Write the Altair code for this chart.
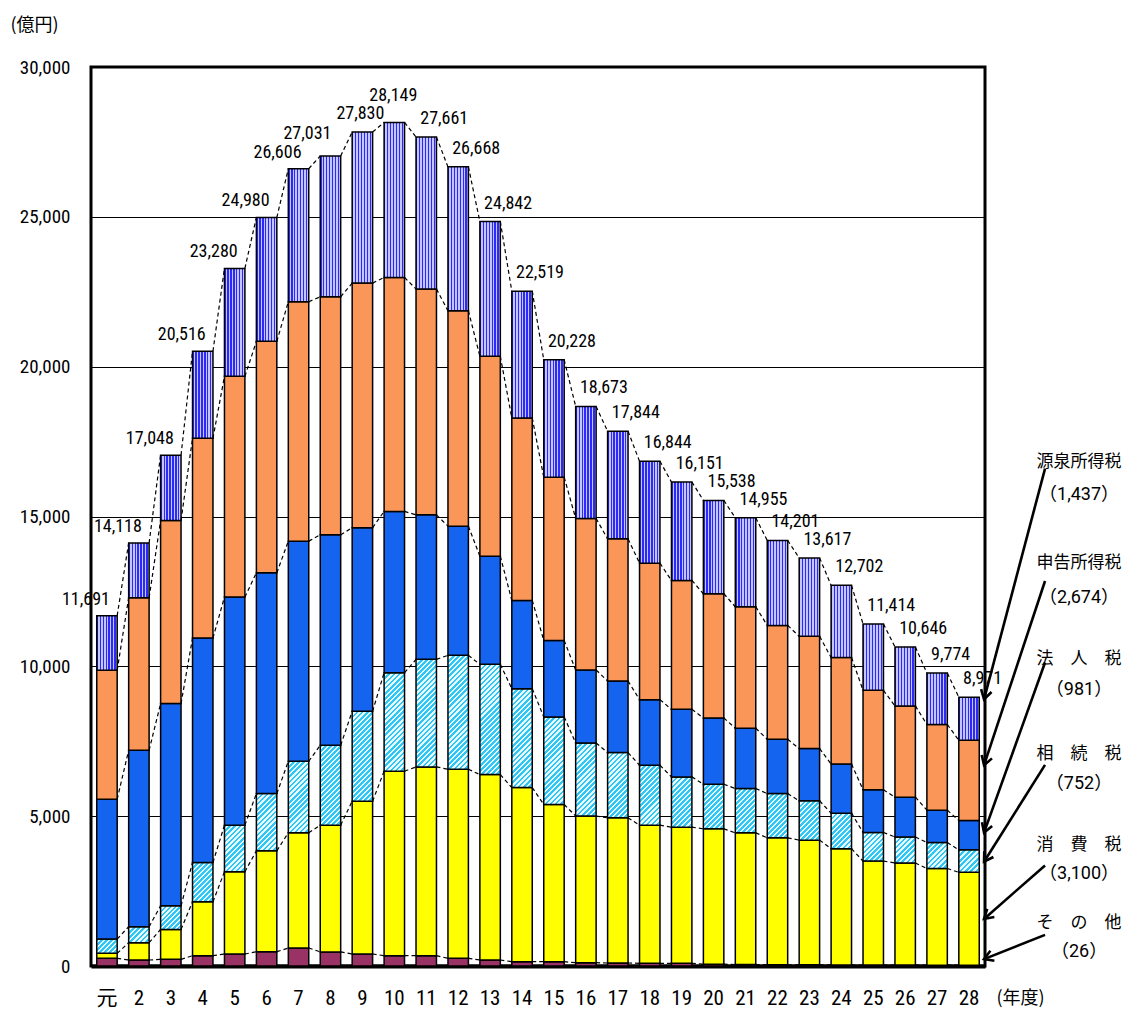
import math
import altair as alt

# ---------------- data (億円) ----------------
years = ["元", "2", "3", "4", "5", "6", "7", "8", "9", "10", "11", "12", "13", "14",
         "15", "16", "17", "18", "19", "20", "21", "22", "23", "24", "25", "26", "27", "28"]
totals = [11691, 14118, 17048, 20516, 23280, 24980, 26606, 27031, 27830, 28149, 27661,
          26668, 24842, 22519, 20228, 18673, 17844, 16844, 16151, 15538, 14955, 14201,
          13617, 12702, 11414, 10646, 9774, 8971]
sonota = [256, 200, 222, 344, 400, 478, 600, 470, 400, 344, 344, 256, 200, 144, 144, 111,
          100, 90, 90, 60, 50, 40, 40, 35, 30, 30, 28, 26]
shouhi = [166, 578, 1000, 1800, 2744, 3366, 3844, 4230, 5100, 6156, 6300, 6310, 6189, 5811,
          5245, 4894, 4844, 4610, 4543, 4517, 4394, 4237, 4160, 3879, 3470, 3410, 3225, 3100]
souzoku = [478, 533, 789, 1311, 1556, 1911, 2389, 2666, 3000, 3289, 3589, 3800, 3677, 3300,
           2922, 2439, 2178, 2000, 1678, 1489, 1478, 1478, 1311, 1186, 956, 866, 867, 752]
houjin = [4667, 5889, 6745, 7489, 7611, 7367, 7345, 7023, 6127, 5381, 4822, 4311, 3606, 2945,
          2555, 2433, 2389, 2189, 2255, 2211, 2011, 1811, 1744, 1640, 1424, 1327, 1080, 981]
shinkoku = [4300, 5090, 6110, 6667, 7367, 7722, 7988, 7944, 8162, 7807, 7534, 7189, 6672, 6088,
            5445, 5056, 4744, 4555, 4300, 4145, 4055, 3800, 3745, 3555, 3320, 3046, 2859, 2674]
gensen = [1824, 1828, 2182, 2905, 3602, 4136, 4440, 4698, 5041, 5172, 5072, 4802, 4498, 4231,
          3917, 3740, 3589, 3400, 3285, 3116, 2967, 2835, 2617, 2407, 2214, 1967, 1715, 1437]

series_names = ["その他", "消費税", "相続税", "法人税", "申告所得税", "源泉所得税"]
series_values = [sonota, shouhi, souzoku, houjin, shinkoku, gensen]
last_values = [1437, 2674, 981, 752, 3100, 26]  # 源泉, 申告, 法人, 相続, 消費, その他 (H28)

# ---------------- geometry / style ----------------
W, H = 894, 899
YMAX = 30000
PAD_INNER, PAD_OUTER = 0.36, 0.18
STEP = W / (len(years) - PAD_INNER + 2 * PAD_OUTER)
BW = STEP * (1 - PAD_INNER)
HALF = BW / 2

NUM = "'Liberation Sans Narrow','Roboto Condensed','DejaVu Sans Condensed',Roboto,sans-serif"
JP = "'Noto Sans CJK JP',sans-serif"
XLAB = "'Liberation Sans Narrow','Roboto Condensed','DejaVu Sans Condensed',Roboto,'Noto Sans CJK JP',sans-serif"
VAL = "Roboto,'Noto Sans CJK JP',sans-serif"


def vstripes(c1, c2, n):
    stops = []
    for k in range(n):
        a, m, b = k / n, (k + 0.45) / n, (k + 1) / n
        stops += [{"offset": a, "color": c1}, {"offset": m, "color": c1},
                  {"offset": m, "color": c2}, {"offset": b, "color": c2}]
    return {"gradient": "linear", "x1": 0, "y1": 0, "x2": 1, "y2": 0, "stops": stops}


def diag(c1, c2, value, period=3.6):
    h = max(value * H / YMAX, 0.5)
    w = BW
    r = h / w
    a = (1 + r) / (1 + r * r)
    n = max(1, round((w + h) / (math.sqrt(2) * period)))
    stops = []
    for k in range(n):
        s, m, e = k / n, (k + 0.5) / n, (k + 1) / n
        stops += [{"offset": s, "color": c1}, {"offset": m, "color": c1},
                  {"offset": m, "color": c2}, {"offset": e, "color": c2}]
    return {"gradient": "linear", "x1": 0, "y1": 0, "x2": a, "y2": a * r, "stops": stops}


def fill_for(name, value):
    if name == "その他":
        return "#993366"
    if name == "消費税":
        return "#FFFF00"
    if name == "相続税":
        return diag("#2EC6F5", "#E8F8FF", value)
    if name == "法人税":
        return "#1464F0"
    if name == "申告所得税":
        return "#FA9658"
    return vstripes("#2B2BF5", "#C4C4FF", 7)


records = []
for i, yr in enumerate(years):
    for j, (name, vals) in enumerate(zip(series_names, series_values)):
        records.append({"year": yr, "idx": i, "series": name, "order": j,
                        "value": vals[i], "fill": fill_for(name, vals[i])})

peak = totals.index(max(totals))
tot_records = []
for i, (yr, t) in enumerate(zip(years, totals)):
    if i < peak - 2:
        side = "R"
    elif i == peak - 2:
        side = "R2"
    elif i == peak - 1:
        side = "C"
    elif i == peak:
        side = "P"
    else:
        side = "L"
    tot_records.append({"year": yr, "total": t, "label": f"{t:,}", "side": side})

# annotation (right side) — names, values from H28 data, anchor heights in data units
ann_names = ["源泉所得税", "申告所得税", "法　人　税", "相　続　税", "消　費　税", "そ　の　他"]
ann_name_y = [16833, 13433, 10233, 7066, 4050, 1447]
ann_val_y = [15733, 12266, 9200, 6066, 3066, 467]
ann_start_y = [16600, 12847, 10127, 6710, 3357, 1040]
ann_end_y = [8900, 6700, 4450, 3480, 1570, 230]
START_OFF, END_OFF, TEXT_OFF = 76, 15, 110

ann_records = []
for nm, v, ny, vy, sy, ey in zip(ann_names, last_values, ann_name_y, ann_val_y, ann_start_y, ann_end_y):
    dx = END_OFF - START_OFF
    dy = (sy - ey) * H / YMAX
    ang = math.degrees(math.atan2(dy, dx)) % 360
    ann_records.append({"yr": years[-1], "name": nm, "vlabel": f"（{v:,}）",
                        "ny": ny, "vy": vy, "sy": sy, "ey": ey, "ang": ang})

# ---------------- scales / axes ----------------
xscale = alt.Scale(domain=years, paddingInner=PAD_INNER, paddingOuter=PAD_OUTER)
yscale = alt.Scale(domain=[0, YMAX], nice=False, zero=True)
xaxis = alt.Axis(labelAngle=0, ticks=False, tickSize=0, domain=True, domainColor="black",
                 domainWidth=4, grid=False, labelPadding=21, labelFont=XLAB, labelFontSize=21,
                 labelColor="black", title="(年度)", titleX=929, titleY=32, titleAlign="center",
                 titleBaseline="middle", titleAngle=0, titleFont=JP, titleFontSize=18,
                 titleFontWeight="normal", titleColor="black")
yaxis = alt.Axis(values=[0, 5000, 10000, 15000, 20000, 25000, 30000], format=",d", grid=True,
                 gridColor="black", gridWidth=1.2, gridOpacity=1, domain=False, ticks=False,
                 labelPadding=21, labelFont=NUM, labelFontSize=19, labelColor="black",
                 title="(億円)", titleAngle=0, titleX=-81, titleY=-42, titleAlign="left",
                 titleBaseline="middle", titleFont=JP, titleFontSize=18,
                 titleFontWeight="normal", titleColor="black")


def X(f):
    return alt.X(f, type="nominal", scale=xscale, axis=xaxis)


def Y(f):
    return alt.Y(f, type="quantitative", scale=yscale, axis=yaxis)


base = alt.Chart(alt.Data(values=records)).transform_stack(
    stack="value", groupby=["year"], as_=["y0", "y1"],
    sort=[alt.SortField(field="order", order="ascending")])

bars = base.mark_bar(stroke="black", strokeWidth=1.5).encode(
    x=X("year"), y=Y("y0"), y2=alt.Y2("y1"),
    fill=alt.Fill("fill", type="nominal", scale=None, legend=None))

lines = base.transform_window(
    window=[alt.WindowFieldDef(op="lead", field="y1", **{"as": "next_y"}),
            alt.WindowFieldDef(op="lead", field="year", **{"as": "next_year"})],
    groupby=["series"], sort=[alt.SortField(field="idx", order="ascending")]
).transform_filter("datum.next_year != null").mark_rule(
    stroke="black", strokeWidth=1.2, strokeDash=[4, 3], xOffset=HALF, x2Offset=-HALF
).encode(x=X("year"), x2=alt.X2("next_year"), y=Y("y1"), y2=alt.Y2("next_y"))

tot = alt.Chart(alt.Data(values=tot_records))
lab_kw = dict(baseline="middle", font=NUM, fontSize=18, color="black")


def lab(side, align, dx, dy):
    return tot.transform_filter(f"datum.side == '{side}'").mark_text(
        align=align, dx=dx, dy=dy, **lab_kw).encode(x=X("year"), y=Y("total"), text="label:N")


labels = [lab("R", "right", 3, -16), lab("R2", "right", 1, -22), lab("C", "center", -2, -18),
          lab("P", "center", -1, -26), lab("L", "left", -6, -18)]

ann = alt.Chart(alt.Data(values=ann_records))
arrows = ann.mark_rule(stroke="black", strokeWidth=2.6, xOffset=START_OFF, x2Offset=END_OFF).encode(
    x=X("yr"), x2=alt.X2("yr"), y=Y("sy"), y2=alt.Y2("ey"))
heads = ann.mark_point(shape="M-1,-0.6L0,0L-1,0.6", size=324, filled=False, stroke="black",
                       strokeWidth=2.6, opacity=1, xOffset=END_OFF).encode(
    x=X("yr"), y=Y("ey"), angle=alt.Angle("ang", type="quantitative", scale=None))
ann_name = ann.mark_text(align="center", baseline="middle", dx=TEXT_OFF, font=JP, fontSize=17,
                         color="black").encode(x=X("yr"), y=Y("ny"), text="name:N")
ann_val = ann.mark_text(align="center", baseline="middle", dx=TEXT_OFF, font=VAL, fontSize=18,
                        color="black").encode(x=X("yr"), y=Y("vy"), text="vlabel:N")

chart = alt.layer(bars, lines, *labels, arrows, heads, ann_name, ann_val).properties(
    width=W, height=H, padding={"left": 2, "top": 8, "right": 0, "bottom": 0}
).configure_view(stroke="black", strokeWidth=3)

chart.save("out.html", embed_options={"renderer": "svg", "actions": False})
